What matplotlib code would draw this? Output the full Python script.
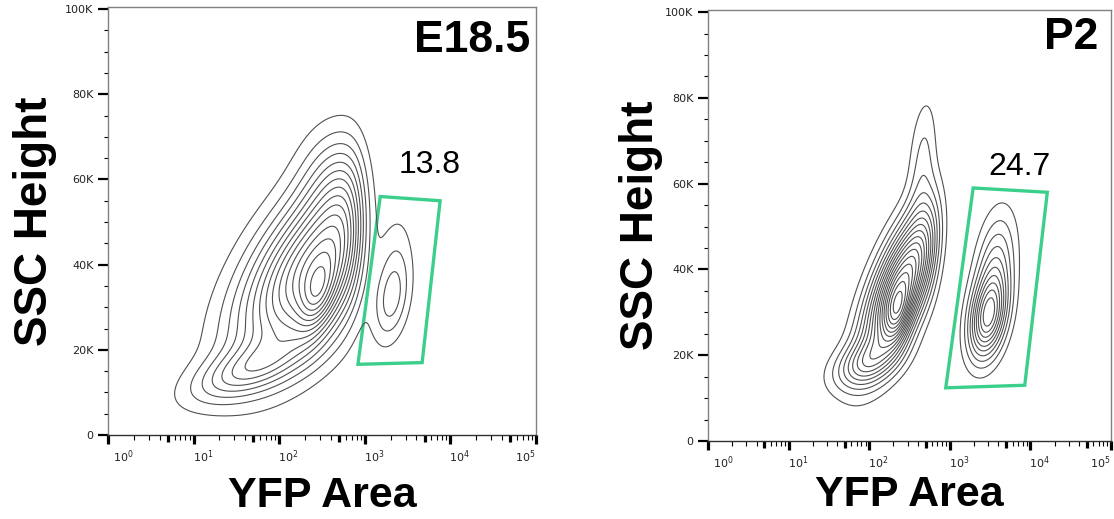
import numpy as np
import matplotlib.pyplot as plt
import matplotlib.transforms as mtransforms
from matplotlib.ticker import FixedLocator, NullFormatter

# axis ticks
y_ticks = [0, 20000, 40000, 60000, 80000, 100000]
y_labels = ["0", "20K", "40K", "60K", "80K", "100K"]
x_ticks = [1e0, 1e1, 1e2, 1e3, 1e4, 1e5]
x_labels = ["$10^0$", "$10^1$", "$10^2$", "$10^3$", "$10^4$", "$10^5$"]

# E18.5 YFP- cells (log10 YFP centre, SSC centre, log spread, SSC spread, corr, peak)
e185_neg_cx = [2.45, 1.60, 2.45, 2.70]
e185_neg_cy = [40000, 15000, 32000, 60000]
e185_neg_sx = [0.60, 0.45, 0.15, 0.30]
e185_neg_sy = [15000, 5000, 6000, 9000]
e185_neg_r = [0.6, 0.6, 0.4, 0.0]
e185_neg_h = [1.0, 0.3, 0.3, 0.2]
e185_edge = (2.95, 0.09)  # log10 YFP where the YFP- cloud stops, softness
# E18.5 YFP+ cells
e185_pos_cx = [3.31, 3.36]
e185_pos_cy = [31500, 43000]
e185_pos_sx = [0.15, 0.15]
e185_pos_sy = [7000, 8000]
e185_pos_r = [0.3, 0.2]
e185_pos_h = [0.24, 0.09]
e185_gate_x = [1514, 7586, 4677, 832]
e185_gate_y = [56000, 55000, 17000, 16600]
e185_pct = "13.8"

# P2 YFP- cells
p2_neg_cx = [2.42, 1.95, 2.35, 2.68]
p2_neg_cy = [37000, 18000, 29000, 66000]
p2_neg_sx = [0.33, 0.28, 0.12, 0.13]
p2_neg_sy = [12000, 4000, 5000, 10000]
p2_neg_r = [0.7, 0.4, 0.3, 0.3]
p2_neg_h = [1.0, 0.3, 0.35, 0.16]
p2_edge = (2.88, 0.08)
# P2 YFP+ cells
p2_pos_cx = [3.47, 3.56]
p2_pos_cy = [28500, 40000]
p2_pos_sx = [0.16, 0.17]
p2_pos_sy = [6500, 9000]
p2_pos_r = [0.3, 0.3]
p2_pos_h = [0.6, 0.3]
p2_gate_x = [1950, 16218, 8511, 891]
p2_gate_y = [59000, 58000, 13000, 12400]
p2_pct = "24.7"

gate_color = "#3ccf8c"
line_color = "#505050"

u = np.linspace(0, 5, 400)
v = np.linspace(0, 100500, 400)
U, V = np.meshgrid(u, v)


def blobs(cx, cy, sx, sy, r, h):
    Z = np.zeros_like(U)
    for i in range(len(cx)):
        du = (U - cx[i]) / sx[i]
        dv = (V - cy[i]) / sy[i]
        q = (du**2 - 2 * r[i] * du * dv + dv**2) / (1 - r[i]**2)
        Z += h[i] * np.exp(-0.5 * q)
    return Z


def style(ax, title, title_x, title_y):
    ax.set_xscale("log")
    ax.set_xlim(1, 1e5)
    ax.set_ylim(0, 100500)
    for s in ax.spines.values():
        s.set_color("#808080")
        s.set_linewidth(1)
    ax.spines["bottom"].set_color("#303030")
    ax.yaxis.set_major_locator(FixedLocator(y_ticks))
    ax.set_yticklabels(y_labels)
    ax.yaxis.set_minor_locator(FixedLocator(np.arange(0, 100001, 5000)))
    ax.tick_params(axis="y", which="major", length=7, width=1.6, pad=3.5,
                   labelsize=8, labelcolor="#222222")
    ax.tick_params(axis="y", which="minor", length=3, width=0.8)
    ax.xaxis.set_major_locator(FixedLocator(x_ticks))
    ax.set_xticklabels(x_labels)
    minors = [m * 10**k for k in range(5) for m in range(2, 10)]
    ax.xaxis.set_minor_locator(FixedLocator(minors))
    ax.xaxis.set_minor_formatter(NullFormatter())
    ax.tick_params(axis="x", which="major", length=6.5, width=2.3, pad=3,
                   labelsize=8, labelcolor="#222222")
    ax.tick_params(axis="x", which="minor", length=3.5, width=0.8)
    ticks = ax.xaxis.get_minor_ticks(len(minors))
    for t, m in zip(ticks, minors):
        if str(int(m))[0] == "5":
            t.tick1line.set_markersize(5)
            t.tick1line.set_markeredgewidth(2.3)
    offs = [15, 10, 9, 9, 9, -11]
    for lab, o in zip(ax.get_xticklabels(), offs):
        lab.set_transform(lab.get_transform() + mtransforms.ScaledTranslation(o / 100, 0, ax.figure.dpi_scale_trans))
    ax.set_xlabel("YFP Area", fontsize=31, fontweight="bold", family="Liberation Sans")
    ax.set_ylabel("SSC Height", fontsize=33, fontweight="bold", family="Liberation Sans")
    ax.text(title_x, title_y, title, transform=ax.transAxes, ha="right", va="top",
            fontsize=32, fontweight="bold", family="Liberation Sans")


def draw(ax, neg, edge, pos, n):
    cut = 1 / (1 + np.exp((U - edge[0]) / edge[1]))
    Z = blobs(*neg) * cut + blobs(*pos)
    step = Z.max() / (n + 0.6)
    ax.contour(10**U, V, Z, levels=step * np.arange(1, n + 1), colors=line_color, linewidths=0.8)


fig = plt.figure(figsize=(11.14, 5.19), dpi=100)
ax1 = fig.add_axes([108 / 1114, 1 - 435 / 519, 428 / 1114, 428 / 519])
ax2 = fig.add_axes([708 / 1114, 1 - 441 / 519, 403 / 1114, 431 / 519])

draw(ax1, (e185_neg_cx, e185_neg_cy, e185_neg_sx, e185_neg_sy, e185_neg_r, e185_neg_h), e185_edge,
     (e185_pos_cx, e185_pos_cy, e185_pos_sx, e185_pos_sy, e185_pos_r, e185_pos_h), 15)
ax1.fill(e185_gate_x, e185_gate_y, fill=False, edgecolor=gate_color, linewidth=2.4)
ax1.text(5754, 63300, e185_pct, ha="center", va="center", fontsize=23, family="Liberation Sans")
style(ax1, "E18.5", 0.986, 0.970)
ax1.xaxis.set_label_coords(0.5, -0.095)
ax1.yaxis.set_label_coords(-0.118, 0.5)

draw(ax2, (p2_neg_cx, p2_neg_cy, p2_neg_sx, p2_neg_sy, p2_neg_r, p2_neg_h), p2_edge,
     (p2_pos_cx, p2_pos_cy, p2_pos_sx, p2_pos_sy, p2_pos_r, p2_pos_h), 17)
ax2.fill(p2_gate_x, p2_gate_y, fill=False, edgecolor=gate_color, linewidth=2.4)
ax2.text(7244, 64000, p2_pct, ha="center", va="center", fontsize=23, family="Liberation Sans")
style(ax2, "P2", 0.968, 0.984)
ax2.xaxis.set_label_coords(0.5, -0.08)
ax2.yaxis.set_label_coords(-0.112, 0.5)

plt.savefig("out.png", dpi=100)
